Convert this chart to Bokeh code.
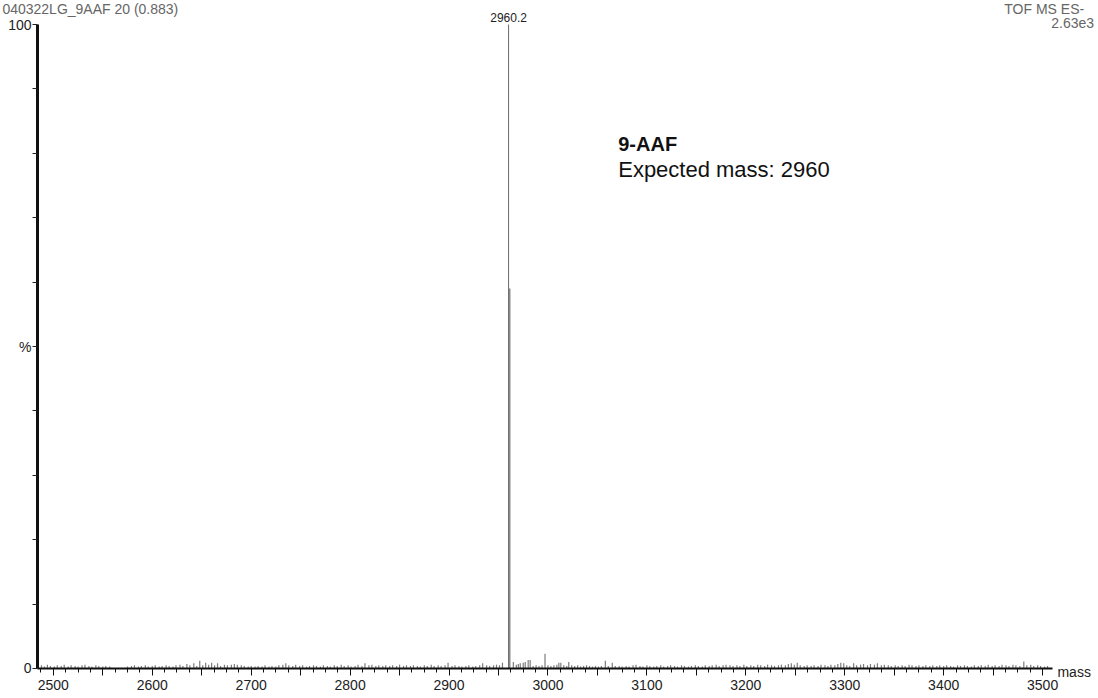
from bokeh.plotting import figure
from bokeh.models import FixedTicker, Range1d, Label
from bokeh.embed import file_html
from bokeh.resources import INLINE

# ---------------- data ----------------
base_peak_mass = [2960.2]
base_peak_pct = [100.0]
isotope_mass = [2961.1]
isotope_pct = [59.0]

noise_left = [
    (2488, 0.5), (2491, 0.3), (2494, 0.6), (2497, 0.4), (2501, 0.3), (2504, 0.5), (2508, 0.4),
    (2511, 0.6), (2515, 0.3), (2518, 0.5), (2522, 0.4), (2525, 0.3), (2529, 0.5), (2532, 0.6),
    (2536, 0.4), (2539, 0.3), (2543, 0.5), (2546, 0.4), (2550, 0.3), (2553, 0.4), (2557, 0.3),
    (2575, 0.3), (2579, 0.4), (2582, 0.5), (2586, 0.3), (2589, 0.4), (2593, 0.5), (2596, 0.3),
    (2600, 0.4), (2603, 0.5), (2607, 0.3), (2610, 0.4), (2614, 0.5), (2617, 0.4), (2621, 0.3),
    (2624, 0.5), (2628, 0.6), (2631, 0.4), (2635, 0.7), (2638, 0.5), (2642, 0.8), (2645, 0.4),
    (2648, 1.2), (2651, 0.5), (2654, 0.9), (2657, 0.6), (2660, 0.9), (2663, 0.5), (2666, 0.8),
    (2669, 0.4), (2673, 0.6), (2676, 0.5), (2680, 0.6), (2683, 0.7), (2686, 0.6), (2690, 0.5),
    (2693, 0.4), (2697, 0.3), (2700, 0.4), (2704, 0.3), (2707, 0.4), (2711, 0.3), (2714, 0.5),
    (2718, 0.3), (2721, 0.4), (2725, 0.3), (2728, 0.5), (2732, 0.6), (2735, 0.8), (2738, 0.5),
    (2742, 0.4), (2745, 0.6), (2749, 0.4), (2752, 0.5), (2756, 0.3), (2759, 0.4), (2763, 0.5),
    (2766, 0.4), (2770, 0.3), (2773, 0.5), (2777, 0.4), (2780, 0.3), (2784, 0.5), (2787, 0.4),
    (2791, 0.6), (2794, 0.4), (2798, 0.5), (2801, 0.3), (2805, 0.4), (2808, 0.6), (2812, 0.4),
    (2815, 0.8), (2819, 0.5), (2822, 0.6), (2826, 0.4), (2829, 0.5), (2833, 0.4), (2836, 0.5),
    (2840, 0.4), (2843, 0.5), (2847, 0.4), (2850, 0.6), (2854, 0.4), (2857, 0.5), (2861, 0.4),
    (2864, 0.5), (2868, 0.4), (2871, 0.3), (2875, 0.5), (2878, 0.4), (2882, 0.6), (2885, 0.4),
    (2889, 0.5), (2892, 0.4), (2896, 0.5), (2899, 0.9), (2903, 0.4), (2906, 0.5), (2910, 0.4),
    (2913, 0.3), (2917, 0.4), (2920, 0.5), (2924, 0.3), (2927, 0.4), (2931, 0.5), (2934, 0.8),
    (2938, 0.5), (2941, 0.4), (2945, 0.5), (2948, 0.6), (2951, 0.5), (2954, 0.9),
]

cluster = [
    (2965, 1.0), (2968, 0.6), (2970, 0.7), (2972, 0.8), (2975, 0.9), (2977, 1.0), (2980, 1.3),
    (2982, 1.3), (2985, 0.4), (2988, 0.5), (2991, 0.4), (2994, 0.5), (2997, 2.3), (3000, 0.5),
    (3003, 0.4), (3006, 0.5), (3009, 0.6), (3011, 0.9), (3013, 0.9), (3016, 0.5), (3019, 0.4),
    (3021, 1.0), (3024, 0.5), (3027, 0.4), (3030, 0.5), (3033, 0.3), (3036, 0.4), (3039, 0.5),
    (3042, 0.4), (3045, 0.3), (3048, 0.4), (3051, 0.3), (3054, 0.4), (3058, 1.2), (3061, 0.4),
    (3065, 0.9), (3068, 0.4),
]

noise_right = [
    (3072, 0.4), (3075, 0.3), (3079, 0.4), (3082, 0.3), (3086, 0.5), (3089, 0.6), (3093, 0.4),
    (3096, 0.3), (3100, 0.5), (3103, 0.4), (3107, 0.3), (3110, 0.4), (3114, 0.5), (3117, 0.3),
    (3121, 0.4), (3124, 0.5), (3128, 0.4), (3131, 0.3), (3135, 0.5), (3138, 0.4), (3142, 0.3),
    (3145, 0.4), (3149, 0.5), (3152, 0.4), (3156, 0.3), (3159, 0.5), (3163, 0.4), (3166, 0.5),
    (3170, 0.6), (3173, 0.4), (3177, 0.5), (3180, 0.6), (3184, 0.5), (3187, 0.4), (3191, 0.5),
    (3194, 0.4), (3198, 0.6), (3201, 0.4), (3205, 0.5), (3208, 0.4), (3212, 0.6), (3215, 0.5),
    (3219, 0.4), (3222, 0.6), (3226, 0.5), (3229, 0.4), (3233, 0.5), (3236, 0.6), (3240, 0.5),
    (3243, 0.7), (3246, 0.8), (3249, 0.6), (3252, 0.9), (3255, 0.5), (3259, 0.4), (3262, 0.5),
    (3266, 0.4), (3269, 0.5), (3273, 0.4), (3276, 0.6), (3280, 0.5), (3283, 0.4), (3286, 0.6),
    (3290, 0.5), (3293, 0.7), (3296, 0.9), (3299, 0.8), (3302, 0.5), (3305, 0.4), (3309, 0.8),
    (3312, 0.5), (3316, 0.6), (3319, 0.7), (3323, 0.5), (3326, 0.7), (3330, 0.6), (3333, 0.8),
    (3337, 0.5), (3340, 0.6), (3344, 0.5), (3347, 0.4), (3351, 0.5), (3354, 0.4), (3358, 0.5),
    (3361, 0.4), (3365, 0.6), (3368, 0.5), (3372, 0.4), (3375, 0.5), (3379, 0.4), (3382, 0.5),
    (3386, 0.4), (3389, 0.5), (3393, 0.4), (3396, 0.5), (3400, 0.4), (3403, 0.5), (3407, 0.4),
    (3410, 0.3), (3414, 0.5), (3417, 0.4), (3421, 0.5), (3424, 0.4), (3428, 0.3), (3431, 0.5),
    (3435, 0.4), (3438, 0.5), (3442, 0.4), (3445, 0.6), (3449, 0.4), (3452, 0.5), (3456, 0.4),
    (3459, 0.6), (3463, 0.5), (3466, 0.4), (3470, 0.6), (3473, 0.5), (3477, 0.4), (3481, 1.1),
    (3484, 0.5), (3488, 0.6), (3491, 0.4), (3495, 0.5), (3498, 0.4), (3502, 0.3), (3505, 0.4),
]

x_tick_labels = [2500, 2600, 2700, 2800, 2900, 3000, 3100, 3200, 3300, 3400, 3500]
y_tick_values = [0, 10, 20, 30, 40, 50, 60, 70, 80, 90, 100]
y_tick_text = {0: "0", 50: "%", 100: "100"}

file_title = "040322LG_9AAF 20 (0.883)"
instrument = "TOF MS ES-"
base_intensity = "2.63e3"
compound = "9-AAF"
expected = "Expected mass: 2960"

FONT = "Liberation Sans"

# axis extents (data units)
X_AXIS_START, X_AXIS_END = 2484, 3510
Y_AXIS_START, Y_AXIS_END = 0, 100

# ---------------- figure ----------------
# the frame covers the whole canvas; axes are drawn at fixed data locations
p = figure(width=1098, height=698, output_backend="svg", toolbar_location=None,
           x_range=Range1d(2446.6, 3556.5), y_range=Range1d(-4.66, 103.73),
           min_border=0)
p.outline_line_color = None
p.xgrid.visible = False
p.ygrid.visible = False
p.background_fill_color = "white"
p.border_fill_color = "white"

noise = noise_left + cluster + noise_right
nm = [m for m, v in noise]
nv = [v for m, v in noise]
p.segment(x0=nm, y0=[0] * len(nm), x1=nm, y1=nv, line_color="#7d7d7d", line_width=1.2)

p.vbar(x=isotope_mass, top=isotope_pct, bottom=0, width=2.0,
       fill_color="#8a8a8a", line_color=None)
p.segment(x0=base_peak_mass, y0=[0], x1=base_peak_mass, y1=base_peak_pct,
          line_color="#6a6a6a", line_width=1)

# axes
xa = p.xaxis[0]
xa.fixed_location = 0
xa.bounds = (X_AXIS_START, X_AXIS_END)
majors = []
for t in x_tick_labels:
    majors.append(t)
    if t + 50 < X_AXIS_END:
        majors.append(t + 50)
minors = []
k = 2487.5
while k < X_AXIS_END:
    minors.append(k)
    k += 12.5
xa.ticker = FixedTicker(ticks=majors, minor_ticks=minors)
overrides = {t + 50: "" for t in x_tick_labels}
overrides.update({t: str(t) for t in x_tick_labels})
xa.major_label_overrides = overrides
xa.axis_line_width = 2
xa.axis_line_color = "#111111"
xa.major_tick_out = 7
xa.major_tick_in = 0
xa.minor_tick_out = 4
xa.minor_tick_in = 0
xa.major_tick_line_color = "#111111"
xa.minor_tick_line_color = "#111111"
xa.major_label_text_font = FONT
xa.major_label_text_font_size = "14px"
xa.major_label_text_color = "#222222"
xa.major_label_standoff = 5

ya = p.yaxis[0]
ya.fixed_location = X_AXIS_START
ya.bounds = (Y_AXIS_START, Y_AXIS_END)
ya.ticker = FixedTicker(ticks=y_tick_values, minor_ticks=[])
ya.major_label_overrides = {v: y_tick_text.get(v, "") for v in y_tick_values}
ya.axis_line_width = 3
ya.axis_line_color = "#111111"
ya.major_tick_out = 5
ya.major_tick_in = 0
ya.major_tick_line_color = "#222222"
ya.major_label_text_font = FONT
ya.major_label_text_font_size = "14px"
ya.major_label_text_color = "#222222"
ya.major_label_standoff = 1

# annotations
def lab(x, y, text, size, color="#222222", align="left", baseline="middle", style="normal"):
    p.add_layout(Label(x=x, y=y, text=text, text_font=FONT, text_font_size=size,
                       text_color=color, text_align=align, text_baseline=baseline,
                       text_font_style=style))

lab(base_peak_mass[0], 100.45, "2960.2", "12px", align="center", baseline="bottom")
lab(3071.0, 81.5, compound, "20px", color="#111111", style="bold")
lab(3071.0, 77.5, expected, "22px", color="#111111")
lab(3515, -0.6, "mass", "14px")
lab(2448.5, 103.65, file_title, "14px", color="#666666", baseline="top")
lab(3542, 103.65, instrument, "14px", color="#666666", align="right", baseline="top")
lab(3552, 101.0, base_intensity, "14px", color="#666666", align="right", baseline="top")

open("out.html", "w").write(file_html(p, INLINE))
